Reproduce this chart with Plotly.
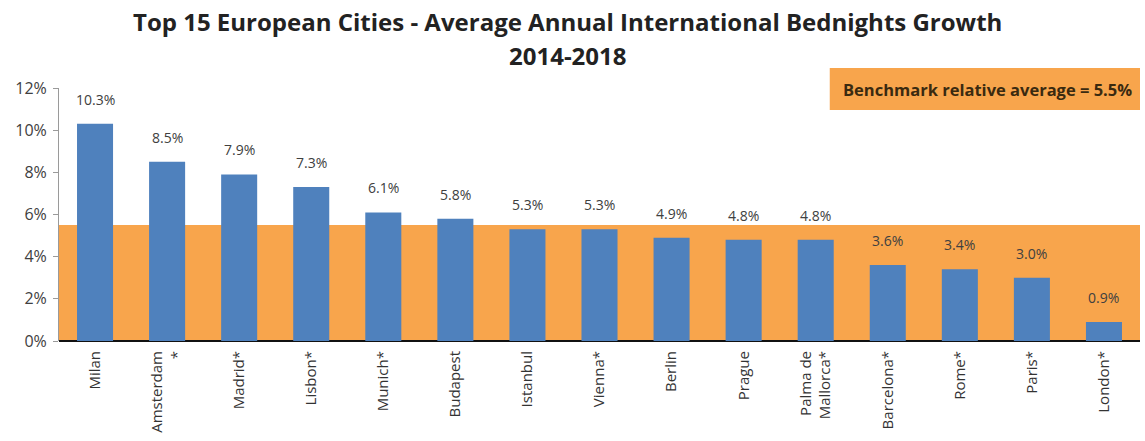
import plotly.graph_objects as go

cities = ["Milan", "Amsterdam<br>*", "Madrid*", "Lisbon*", "Munich*", "Budapest", "Istanbul",
          "Vienna*", "Berlin", "Prague", "Palma de<br>Mallorca*", "Barcelona*", "Rome*", "Paris*", "London*"]
growth = [10.3, 8.5, 7.9, 7.3, 6.1, 5.8, 5.3, 5.3, 4.9, 4.8, 4.8, 3.6, 3.4, 3.0, 0.9]
benchmark = 5.5
y_ticks = [0, 2, 4, 6, 8, 10, 12]
title_lines = ["Top 15 European Cities - Average Annual International Bednights Growth", "2014-2018"]

labels = [f"{v:.1f}%" for v in growth]
ORANGE = "#F8A54C"
FONT = "Open Sans"

fig = go.Figure()
fig.add_trace(go.Bar(
    x=cities, y=growth,
    marker=dict(color="#4F81BD", line=dict(width=0)),
    width=0.5,
))

for c, v, t in zip(cities, growth, labels):
    fig.add_annotation(x=c, y=v, text=t, showarrow=False, yanchor="bottom", yshift=13,
                       font=dict(size=14, color="#404040", family=FONT))

fig.add_shape(type="rect", xref="paper", yref="y", x0=0, x1=1, y0=0, y1=benchmark,
              fillcolor=ORANGE, line=dict(width=0), layer="below")

# benchmark box
fig.add_shape(type="rect", xref="paper", yref="paper", x0=0.713, x1=1.0, y0=0.913, y1=1.079,
              fillcolor=ORANGE, line=dict(width=0))
fig.add_annotation(xref="paper", yref="paper", x=0.8585, y=0.996, xanchor="center", yanchor="middle",
                   text="<b>Benchmark relative average = 5.5%</b>", showarrow=False,
                   font=dict(size=16.5, color="#3a2a10", family=FONT))

# title
fig.add_annotation(xref="paper", yref="paper", x=0.4707, y=(341 - 21) / 253, xanchor="center",
                   yanchor="middle", text=f"<b>{title_lines[0]}</b>", showarrow=False,
                   font=dict(size=24, color="#222222", family=FONT))
fig.add_annotation(xref="paper", yref="paper", x=0.4707, y=(341 - 55) / 253, xanchor="center",
                   yanchor="middle", text=f"<b>{title_lines[1]}</b>", showarrow=False,
                   font=dict(size=24, color="#222222", family=FONT))

fig.update_layout(
    width=1145, height=441,
    margin=dict(l=59, r=5, t=88, b=100),
    paper_bgcolor="white", plot_bgcolor="white",
    showlegend=False,
    xaxis=dict(tickangle=-90, tickfont=dict(size=15, color="#333333", family=FONT),
               showline=False, ticks="", range=[-0.5, 14.5], ticklabelstandoff=6),
    yaxis=dict(range=[0, 12], tickvals=y_ticks, ticktext=[f"{t}%" for t in y_ticks],
               showgrid=False, zeroline=True, zerolinecolor="#111111", zerolinewidth=2,
               showline=True, linecolor="#9a9a9a", linewidth=1, ticks="outside", ticklen=5,
               tickcolor="#9a9a9a", ticklabelstandoff=3,
               tickfont=dict(size=16, color="#404040", family=FONT)),
)

fig.write_html("out.html", config={"displayModeBar": False},
               post_script="document.body.style.margin='0';")
